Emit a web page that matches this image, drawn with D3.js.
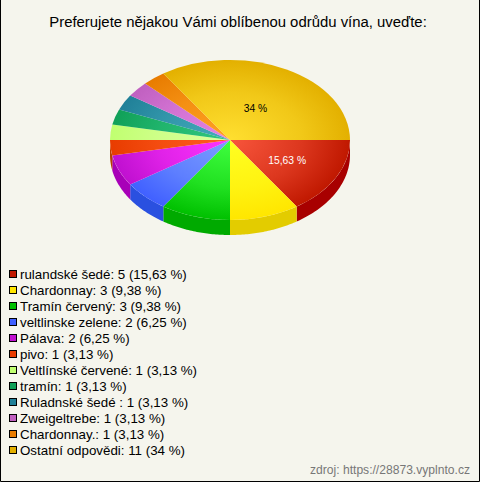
<!DOCTYPE html>
<html><head><meta charset="utf-8">
<script src="https://cdn.jsdelivr.net/npm/d3@7/dist/d3.min.js"></script>
<style>html,body{margin:0;padding:0;background:#f5f5ed}svg{display:block}</style>
</head><body><script>
const categories=["rulandské šedé","Chardonnay","Tramín červený","veltlinske zelene","Pálava","pivo","Veltlínské červené","tramín","Ruladnské šedé ","Zweigeltrebe","Chardonnay.","Ostatní odpovědi"];
const counts=[5,3,3,2,2,1,1,1,1,1,1,11];
const percents=["15,63","9,38","9,38","6,25","6,25","3,13","3,13","3,13","3,13","3,13","3,13","34"];
const sliceLabels=["15,63 %","","","","","","","","","","","34 %"];
const labelColors=["#fff","","","","","","","","","","","#000"];
const centerColors=["#f8553c","#ffff22","#40ff40","#7c9eff","#ff34ff","#ff5c20","#dcffa0","#30c880","#44acbc","#e484e4","#ffa224","#ffdf30"];
const edgeColors=["#c01800","#ffe600","#00c000","#4060ff","#c010d0","#e83c00","#c0ff70","#10a058","#208098","#c060c0","#e87c00","#e3b000"];
const wallColors=["#a80000","#e3cc00","#00aa00","#2a50e0","#a800b8","#b84000","#a0d060","#0c8048","#186878","#a04ca0","#c06400","#c09400"];

const W=480,H=482,cx=230,cy=140,rx=120,ry=80,depth=15;
const svg=d3.select("body").append("svg").attr("width",W).attr("height",H).style("font-family","'Liberation Sans',Arial,sans-serif");
svg.append("rect").attr("width",W).attr("height",H).attr("fill","#f5f5ed");
svg.append("path").attr("d",`M0.5,0V${H-.5}H${W-.5}V0`).attr("fill","none").attr("stroke","#000");
svg.append("text").attr("x",238).attr("y",27).attr("text-anchor","middle").attr("font-size",14.9).attr("fill","#000")
  .text("Preferujete nějakou Vámi oblíbenou odrůdu vína, uveďte:");

const arcs=d3.pie().sort(null).startAngle(Math.PI/2).endAngle(Math.PI*2.5)(counts);
const defs=svg.append("defs");
categories.forEach((c,i)=>{
  const g=defs.append("radialGradient").attr("id","g"+i).attr("gradientUnits","userSpaceOnUse").attr("cx",0).attr("cy",0).attr("r",rx);
  g.append("stop").attr("offset",0).attr("stop-color",centerColors[i]);
  g.append("stop").attr("offset",0.6).attr("stop-color",d3.interpolateRgb(centerColors[i],edgeColors[i])(0.5));
  g.append("stop").attr("offset",1).attr("stop-color",edgeColors[i]);
});
// walls (front half only)
const wall=d3.area()
  .x(a=>cx+rx*Math.sin(a))
  .y0(a=>cy-ry*Math.cos(a))
  .y1(a=>cy-ry*Math.cos(a)+depth);
svg.append("g").selectAll("path").data(arcs.filter(d=>d.startAngle<Math.PI*1.5)).join("path")
  .attr("fill",d=>wallColors[d.index])
  .attr("d",d=>{
    const a0=d.startAngle,a1=Math.min(d.endAngle,Math.PI*1.5);
    return wall(d3.range(0,41).map(k=>a0+(a1-a0)*k/40));
  });
// top
const arc=d3.arc().innerRadius(0).outerRadius(rx);
svg.append("g").attr("transform",`translate(${cx},${cy}) scale(1,${ry/rx})`)
  .selectAll("path").data(arcs).join("path").attr("d",arc).attr("fill",d=>`url(#g${d.index})`);
// labels
const labelFrac=d=>d.index===0?0.54:0.45;
svg.append("g").selectAll("text").data(arcs.filter(d=>sliceLabels[d.index])).join("text")
  .attr("x",d=>cx+rx*labelFrac(d)*Math.sin((d.startAngle+d.endAngle)/2))
  .attr("y",d=>cy-ry*labelFrac(d)*Math.cos((d.startAngle+d.endAngle)/2)+4)
  .attr("text-anchor","middle").attr("font-size",10.3)
  .attr("fill",d=>labelColors[d.index]).text(d=>sliceLabels[d.index]);
// legend
const y=d3.scaleBand().domain(d3.range(categories.length)).range([266,458]);
const leg=svg.append("g").selectAll("g").data(categories).join("g").attr("transform",(d,i)=>`translate(0,${y(i)})`);
leg.append("rect").attr("x",9.5).attr("y",4.5).attr("width",7).attr("height",7)
  .attr("fill",(d,i)=>edgeColors[i]).attr("stroke","#000");
leg.append("text").attr("x",20).attr("y",13).attr("font-size",13.33).attr("fill","#000")
  .text((d,i)=>`${d}: ${counts[i]} (${percents[i]} %)`);
svg.append("text").attr("x",470).attr("y",474).attr("text-anchor","end").attr("font-size",12.1).attr("fill","#777")
  .text("zdroj: https://28873.vyplnto.cz");
</script></body></html>
